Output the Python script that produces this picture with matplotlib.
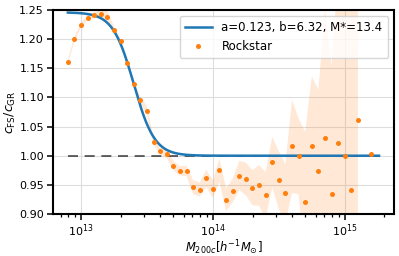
import numpy as np
import matplotlib
matplotlib.use("Agg")
import matplotlib.pyplot as plt

# Data (log10 mass bins of Rockstar halos)
logM = [12.90, 12.95, 13.00, 13.05, 13.10, 13.15, 13.20, 13.25, 13.30, 13.35,
        13.40, 13.45, 13.50, 13.55, 13.60, 13.65, 13.70, 13.75, 13.80, 13.85,
        13.90, 13.95, 14.00, 14.05, 14.10, 14.15, 14.20, 14.25, 14.30, 14.35,
        14.40, 14.45, 14.50, 14.55, 14.60, 14.65, 14.70, 14.75, 14.80, 14.85,
        14.90, 14.95, 15.00, 15.05, 15.10, 15.15, 15.20]
ratio = [1.161, 1.200, 1.224, 1.237, 1.241, 1.243, 1.238, 1.216, 1.196, 1.159,
         1.1225, 1.096, 1.077, 1.024, 1.0086, 1.003, 0.983, 0.974, 0.974, 0.946,
         0.942, 0.961, 0.943, 0.975, 0.9245, 0.940, 0.966, 0.960, 0.945, 0.949,
         0.932, 0.989, 0.958, 0.9355, 1.016, 0.999, 0.921, 1.016, 0.973, 1.030,
         0.934, 1.022, 0.999, 0.941, 1.061, np.nan, 1.0035]
err = [0.004, 0.004, 0.004, 0.004, 0.005, 0.008, 0.010, 0.006, 0.005, 0.005,
       0.005, 0.006, 0.008, 0.006, 0.006, 0.007, 0.008, 0.008, 0.009, 0.012,
       0.012, 0.015, 0.015, 0.020, 0.020, 0.020, 0.025, 0.028, 0.030, 0.035,
       0.040, 0.043, 0.050, 0.050, 0.080, 0.065, 0.120, 0.120, 0.140, 0.220,
       0.220, 0.300, 0.300, 0.350, 0.400, np.nan, np.nan]

fit_a = 0.123
fit_b = 6.32
fit_mstar = 13.4
fit_range = [12.90, 15.26]
label_fit = "a=0.123, b=6.32, M*=13.4"
label_data = "Rockstar"

logM = np.array(logM)
ratio = np.array(ratio)
err = np.array(err)
M = 10 ** logM

fig = plt.figure(figsize=(3.99, 2.56), dpi=100)
ax = fig.add_axes([0.133, 0.164, 0.854, 0.797])

xx = np.linspace(fit_range[0], fit_range[1], 400)
yy = 1 + fit_a * (1 - np.tanh(fit_b * (xx - fit_mstar)))

ax.fill_between(M, ratio - err, ratio + err, color="#ff7f0e", alpha=0.17, lw=0)
ax.plot(10 ** xx, np.ones_like(xx), ls=(0, (6, 4)), color="k", alpha=0.7, lw=1.2)
ax.plot(10 ** xx, yy, color="#1f77b4", lw=1.8, label=label_fit)
ax.plot(M, ratio, "o", color="#ff7f0e", ms=3.6, mew=0, label=label_data)

ax.set_xscale("log")
ax.set_xlim(10 ** 12.788, 10 ** 15.372)
ax.set_ylim(0.90, 1.25)
ax.set_yticks(np.arange(0.90, 1.2501, 0.05))
ax.set_yticklabels([f"{v:.2f}" for v in np.arange(0.90, 1.2501, 0.05)])
ax.grid(True, which="major", color="#dddddd", lw=0.8)
ax.set_axisbelow(True)

for s in ax.spines.values():
    s.set_linewidth(1.5)
ax.tick_params(which="major", length=4, width=1.1, labelsize=8, pad=2.5)
ax.tick_params(axis="x", which="major", pad=2)
ax.tick_params(which="minor", length=2.5, width=0.9)

ax.set_xlabel(r"$M_{200c}[h^{-1}M_{\odot}]$", fontsize=8.3, labelpad=-0.5)
ax.set_ylabel(r"$c_{\rm FS}/c_{\rm GR}$", fontsize=9, labelpad=1)

ax.legend(loc="upper right", fontsize=8.5, numpoints=1, framealpha=0.8,
          borderaxespad=0.5, handlelength=2.3, borderpad=0.45)

fig.savefig("out.png", dpi=100)
